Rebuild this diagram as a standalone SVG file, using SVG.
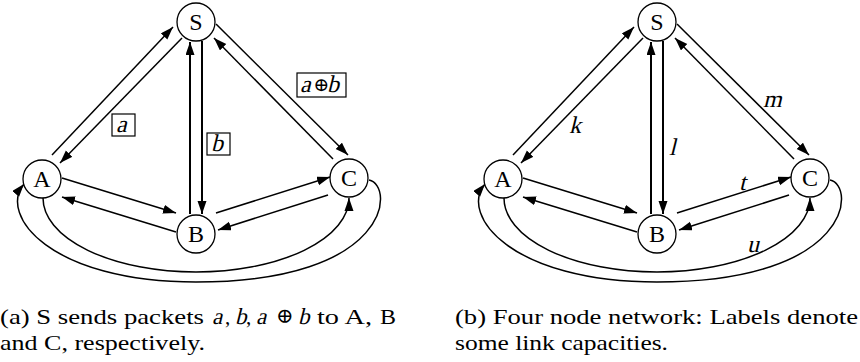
<svg xmlns="http://www.w3.org/2000/svg" width="860" height="362" viewBox="0 0 860 362" font-family="'Liberation Serif', 'DejaVu Serif', serif">
<style>
text{font-family:'Liberation Serif','DejaVu Serif',serif;fill:#000}
.node circle{fill:#fff;stroke:#000;stroke-width:1.3}
.node text{font-size:24px;text-anchor:middle}
.e{fill:none;stroke:#000;stroke-width:1.5;marker-end:url(#ah)}
.v{stroke-width:2}
.lbl{font-size:24px}
.op{font-size:19px}
.box{fill:#fff;stroke:#000;stroke-width:1.2}
.cap{font-size:21px}
.ci{font-size:23px}
</style>
<defs>
<marker id="ah" markerUnits="userSpaceOnUse" markerWidth="14" markerHeight="10" refX="13" refY="4.5" orient="auto">
<path d="M0,0 L13,4.5 L0,9 Z" fill="#000"/>
</marker>
<g id="edges-proto">
<path class="e" d="M52,155 L173,27"/>
<path class="e" d="M182,38 L60,163"/>
<path class="e v" d="M190,214 L190,42"/>
<path class="e v" d="M202,41 L202,214"/>
<path class="e" d="M216,24 L348,155"/>
<path class="e" d="M333,159 L214,38"/>
<path class="e" d="M62,178 L176,213"/>
<path class="e" d="M176,232 L62,197"/>
<path class="e" d="M216,213 L330,177"/>
<path class="e" d="M328,195 L218,230"/>
<path class="e" d="M43,198 A153,74 0 0 0 349,198"/>
<path class="e" d="M369,180 C395,185 392,282 196,282 C50,282 -2,215 24,184"/>
</g>
</defs>

<g id="panel-a">
<g id="connectors-a"><use href="#edges-proto"/></g>
<g id="a-S" class="node"><circle cx="196" cy="22" r="19"/><text x="196" y="30">S</text></g>
<g id="a-A" class="node"><circle cx="42" cy="179" r="19"/><text x="42" y="187">A</text></g>
<g id="a-B" class="node"><circle cx="196" cy="234" r="19"/><text x="196" y="242">B</text></g>
<g id="a-C" class="node"><circle cx="349" cy="178" r="19"/><text x="349" y="186">C</text></g>
<g id="a-labels">
<rect class="box" x="112" y="114" width="23" height="22"/>
<text class="lbl" transform="translate(116,132) skewX(-14)">a</text>
<rect class="box" x="207" y="133" width="23" height="22"/>
<text class="lbl" transform="translate(211,151) skewX(-14)">b</text>
<rect class="box" x="297" y="73" width="49" height="24"/>
<text class="lbl" transform="translate(300,92) skewX(-14)">a</text>
<text class="op" x="313.5" y="91">⊕</text>
<text class="lbl" transform="translate(327,92) skewX(-14)">b</text>
</g>
</g>

<g id="panel-b" transform="translate(461,0)">
<g id="connectors-b"><use href="#edges-proto"/></g>
<g id="b-S" class="node"><circle cx="196" cy="22" r="19"/><text x="196" y="30">S</text></g>
<g id="b-A" class="node"><circle cx="42" cy="179" r="19"/><text x="42" y="187">A</text></g>
<g id="b-B" class="node"><circle cx="196" cy="234" r="19"/><text x="196" y="242">B</text></g>
<g id="b-C" class="node"><circle cx="349" cy="178" r="19"/><text x="349" y="186">C</text></g>
<g id="b-labels">
<text class="lbl" transform="translate(108,133) skewX(-14)">k</text>
<text class="lbl" transform="translate(208,155) skewX(-14)">l</text>
<text class="lbl" transform="translate(302,107) skewX(-14)">m</text>
<text class="lbl" transform="translate(278,190) skewX(-14)">t</text>
<text class="lbl" transform="translate(286,252) skewX(-14)">u</text>
</g>
</g>

<g id="captions">
<text class="cap" x="0" y="324" textLength="204" lengthAdjust="spacingAndGlyphs">(a) S sends packets</text>
<text class="ci" transform="translate(212,324) skewX(-14)">a</text>
<text class="cap" x="225" y="324">,</text>
<text class="ci" transform="translate(235,324) skewX(-14)">b</text>
<text class="cap" x="246" y="324">,</text>
<text class="ci" transform="translate(256,324) skewX(-14)">a</text>
<text class="cap" x="276" y="323" font-size="19">⊕</text>
<text class="ci" transform="translate(298,324) skewX(-14)">b</text>
<text class="cap" x="317" y="324" textLength="55" lengthAdjust="spacingAndGlyphs">to A,</text>
<text class="cap" x="380" y="324" textLength="16" lengthAdjust="spacingAndGlyphs">B</text>
<text class="cap" x="0" y="350" textLength="205" lengthAdjust="spacingAndGlyphs">and C, respectively.</text>
<text class="cap" x="455" y="324" textLength="403" lengthAdjust="spacingAndGlyphs">(b) Four node network: Labels denote</text>
<text class="cap" x="455" y="350" textLength="213" lengthAdjust="spacingAndGlyphs">some link capacities.</text>
</g>
</svg>
